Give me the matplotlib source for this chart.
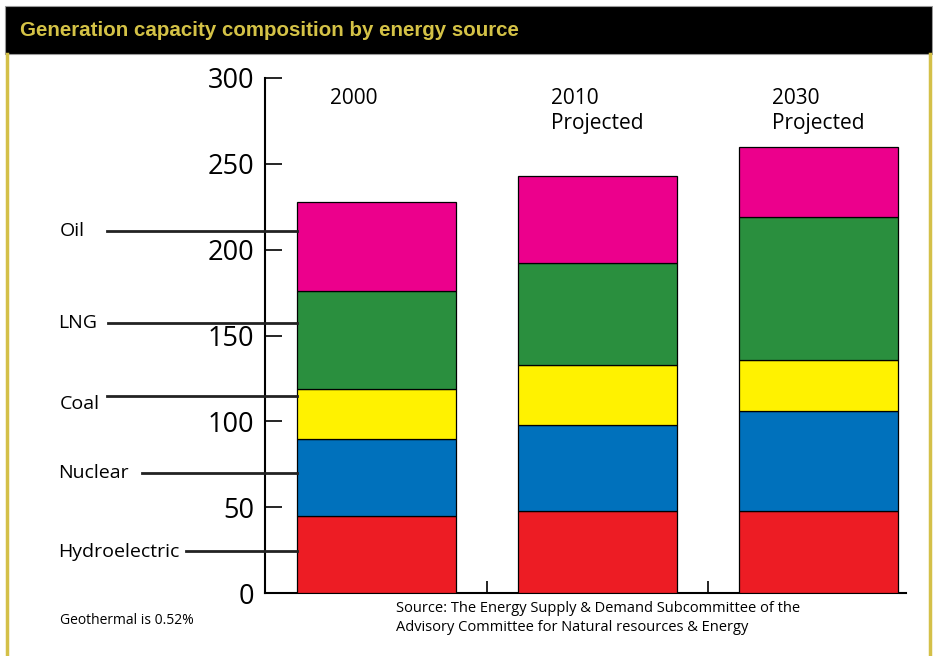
import matplotlib
matplotlib.use('Agg')
import matplotlib.pyplot as plt
from matplotlib.patches import Rectangle
from matplotlib.lines import Line2D
import numpy as np

# data (GW)
years = ['2000', '2010\nProjected', '2030\nProjected']
sources = ['Hydroelectric', 'Nuclear', 'Coal', 'LNG', 'Oil']
hydro = [45, 48, 48]
nuclear = [45, 50, 58]
coal = [29, 35, 30]
lng = [57, 59, 83]
oil = [52, 51, 41]
colors = ['#ED1C24', '#0071BC', '#FFF200', '#2A8F3E', '#EC008C']
# where each leader line meets the 2000 bar
label_y = [24.5, 70, 115, 157, 211]

plt.rcParams['font.family'] = ['Open Sans', 'DejaVu Sans']

fig = plt.figure(figsize=(9.33, 6.56), dpi=100)
W, H = 933.0, 656.0

# frame: black title bar and yellow side rules
fig.patches.append(Rectangle((5 / W, 1 - 54 / H), 927 / W, 48 / H, transform=fig.transFigure,
                             facecolor='black', edgecolor='#9a9a9a', lw=0.8))
for xp in [7, 930]:
    fig.lines.append(Line2D([xp / W, xp / W], [0, 1 - 54 / H], transform=fig.transFigure,
                            color='#D4C048', lw=2.5))
fig.text(20 / W, 1 - 31 / H, 'Generation capacity composition by energy source',
         family=['Liberation Sans Narrow', 'Liberation Sans'], fontweight='bold',
         fontsize=14.8, color='#D4C246', va='center', ha='left')

ax = fig.add_axes([265 / W, 1 - 593 / H, 641 / W, 515 / H])
x = np.arange(len(years))
series = [hydro, nuclear, coal, lng, oil]
bottom = np.zeros(len(years))
for vals, c in zip(series, colors):
    ax.bar(x, vals, width=0.72, bottom=bottom, color=c, edgecolor='black', linewidth=0.9, zorder=3)
    bottom += np.array(vals)

ax.set_xlim(-0.5045, 2.396)
ax.set_ylim(0, 300)
for s in ['top', 'right']:
    ax.spines[s].set_visible(False)
ax.spines['left'].set_linewidth(1.5)
ax.spines['bottom'].set_linewidth(1.5)
ax.set_yticks(range(0, 301, 50))
ax.tick_params(axis='y', direction='in', length=12, width=1.2, labelsize=19.5, pad=8)
ax.set_xticks([0.5, 1.5])
ax.set_xticklabels([])
ax.tick_params(axis='x', direction='in', length=9, width=1.2)

# year labels above the bars
for i, t in enumerate(years):
    ax.text(i - 0.21, 294, t, fontsize=15, va='top', ha='left', linespacing=1.25)

# source labels with leader lines to the first bar
text_x = [58, 58, 60, 58, 60]
text_dy = [-1, 0, -8, 0, 0]
line_start = [186, 142, 107, 108, 107]
for name, yv, tx, dy, ls in zip(sources, label_y, text_x, text_dy, line_start):
    yd = ax.transData.transform((0, yv))[1]
    yfig = yd / fig.dpi / 6.56
    xe = ax.transData.transform((-0.36, 0))[0] / fig.dpi / 9.33
    fig.lines.append(Line2D([ls / W, xe], [yfig, yfig], transform=fig.transFigure,
                            color='#222222', lw=2))
    fig.text(tx / W, yfig + dy / H, name, fontsize=14, va='center', ha='left')

fig.text(60 / W, 1 - 620 / H, 'Geothermal is 0.52%', fontsize=10, va='center', ha='left')
fig.text(396 / W, 1 - 618 / H,
         'Source: The Energy Supply & Demand Subcommittee of the\n'
         'Advisory Committee for Natural resources & Energy',
         fontsize=10.5, va='center', ha='left', linespacing=1.3)

fig.savefig('out.png', dpi=100)
